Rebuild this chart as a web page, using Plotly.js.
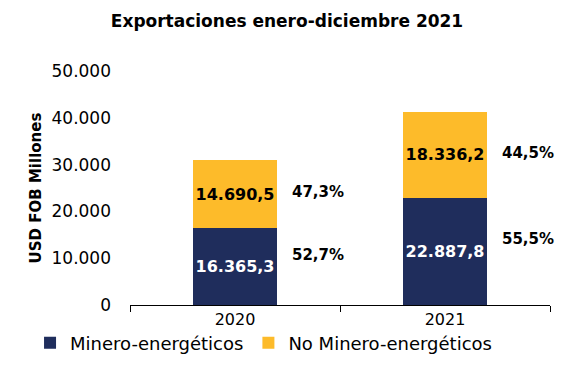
<!DOCTYPE html>
<html>
<head>
<meta charset="utf-8">
<script src="https://cdn.plot.ly/plotly-3.0.1.min.js"></script>
<style>html,body{margin:0;padding:0;background:#fff;}#chart{width:574px;height:375px;}</style>
</head>
<body>
<div id="chart"></div>
<script>
const years = ['2020', '2021'];
const mineroEnergeticos = [16365.3, 22887.8];
const noMineroEnergeticos = [14690.5, 18336.2];
const pctMinero = ['52,7%', '55,5%'];
const pctNoMinero = ['47,3%', '44,5%'];

const FONT = 'DejaVu Sans, sans-serif';
const NAVY = '#1F2D5C';
const YELLOW = '#FDBB2A';

const traces = [
  {
    type: 'bar', name: 'Minero-energéticos', x: years, y: mineroEnergeticos,
    marker: {color: NAVY},
    texttemplate: '%{y:,.1f}', textposition: 'inside', insidetextanchor: 'middle',
    textangle: 0, constraintext: 'none',
    textfont: {family: FONT, size: 16, color: '#ffffff', weight: 'bold'},
    hoverinfo: 'skip'
  },
  {
    type: 'bar', name: 'No Minero-energéticos', x: years, y: noMineroEnergeticos,
    marker: {color: YELLOW},
    texttemplate: '%{y:,.1f}', textposition: 'inside', insidetextanchor: 'middle',
    textangle: 0, constraintext: 'none',
    textfont: {family: FONT, size: 16, color: '#000000', weight: 'bold'},
    hoverinfo: 'skip'
  }
];

const annotations = [];
years.forEach((yr, i) => {
  annotations.push({
    x: i, y: mineroEnergeticos[i] / 2, xref: 'x', yref: 'y',
    text: pctMinero[i], showarrow: false, xshift: 83, yshift: 12,
    font: {family: FONT, size: 15, color: '#000', weight: 'bold'}
  });
  annotations.push({
    x: i, y: mineroEnergeticos[i] + noMineroEnergeticos[i] / 2, xref: 'x', yref: 'y',
    text: pctNoMinero[i], showarrow: false, xshift: 83, yshift: 2,
    font: {family: FONT, size: 15, color: '#000', weight: 'bold'}
  });
});

const layout = {
  width: 574, height: 375,
  margin: {l: 130, r: 24, t: 71, b: 70},
  paper_bgcolor: '#fff', plot_bgcolor: '#fff',
  separators: ',.',
  barmode: 'stack',
  bargap: 0.6,
  font: {family: FONT, color: '#000'},
  title: {text: 'Exportaciones enero-diciembre 2021', x: 0.5, xanchor: 'center', y: 0.945, yanchor: 'middle',
          font: {family: FONT, size: 17, color: '#000', weight: 'bold'}},
  xaxis: {
    type: 'category', range: [-0.5, 1.5],
    showline: true, linecolor: '#000', linewidth: 1,
    ticks: 'outside', tickson: 'boundaries', ticklen: 6, tickcolor: '#000',
    tickfont: {family: FONT, size: 16, color: '#000'},
    showgrid: false, fixedrange: true
  },
  yaxis: {
    range: [0, 50000], tickvals: [0, 10000, 20000, 30000, 40000, 50000],
    ticktext: ['0', '10.000', '20.000', '30.000', '40.000', '50.000'],
    showgrid: false, zeroline: false, showline: false, ticks: '',
    ticklabelstandoff: 18,
    tickfont: {family: FONT, size: 17, color: '#000'},
    title: {text: 'USD FOB Millones', standoff: 6, font: {family: FONT, size: 15, color: '#000', weight: 'bold'}},
    fixedrange: true
  },
  legend: {
    orientation: 'h', x: -0.238, xanchor: 'left', xref: 'paper',
    y: -0.242, yanchor: 'bottom', yref: 'paper',
    font: {family: FONT, size: 18, color: '#000'}, traceorder: 'normal',
    itemwidth: 30
  },
  annotations: annotations
};

Plotly.newPlot('chart', traces, layout, {displayModeBar: false, staticPlot: true});
</script>
</body>
</html>
